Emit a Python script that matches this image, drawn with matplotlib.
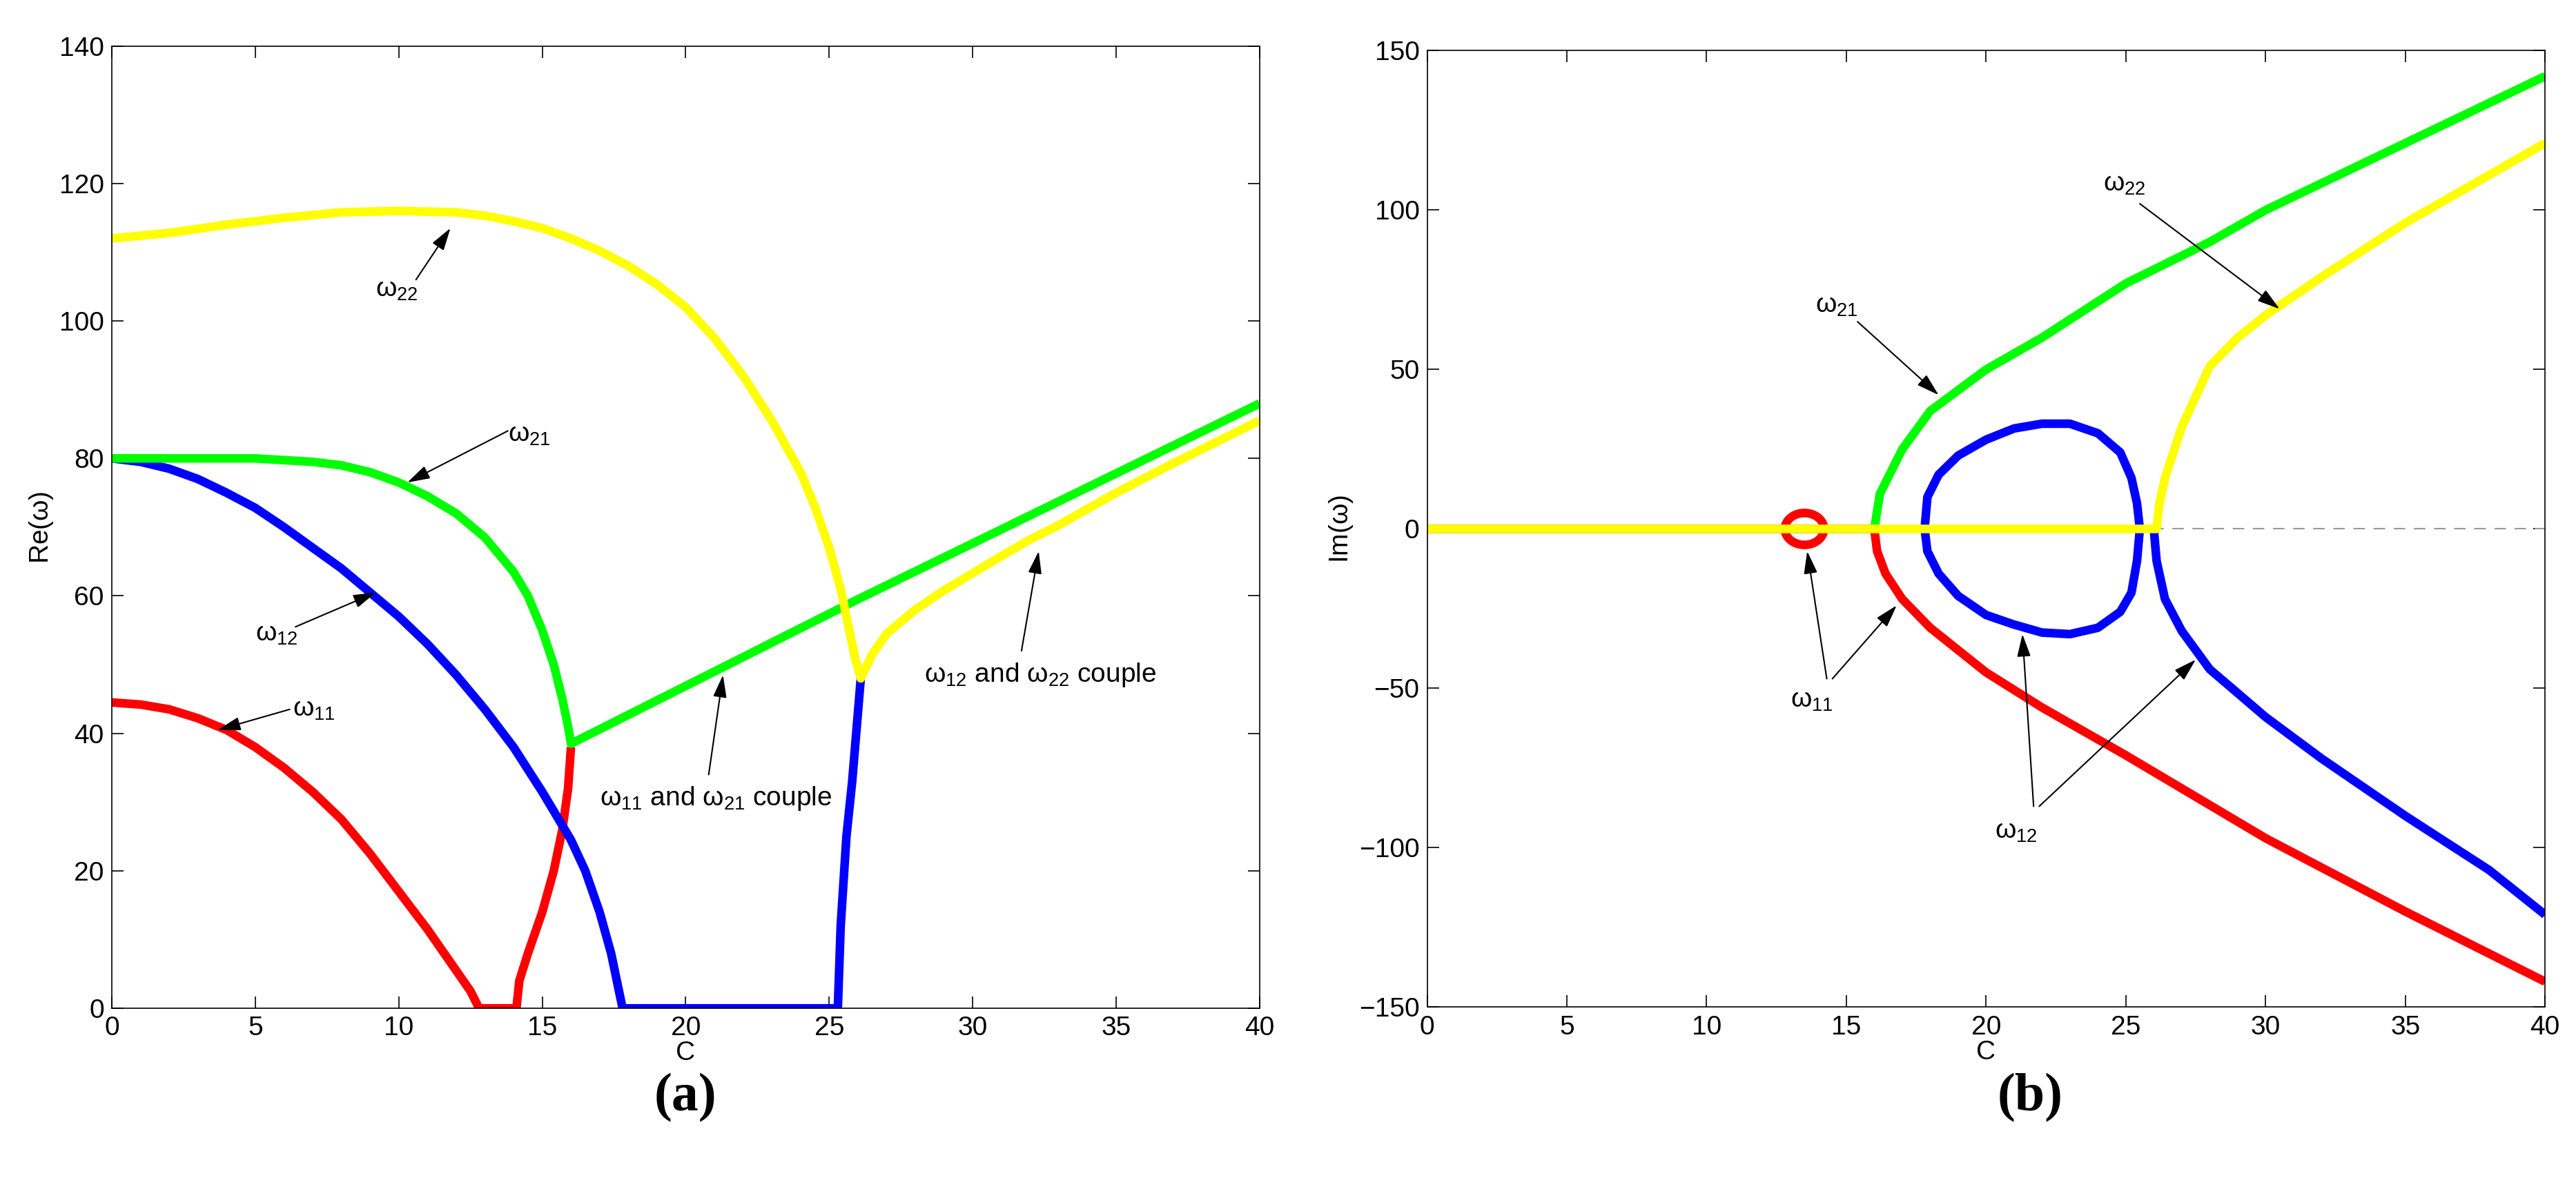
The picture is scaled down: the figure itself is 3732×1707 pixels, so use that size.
import matplotlib
matplotlib.use("Agg")
import matplotlib.pyplot as plt
import numpy as np

plt.rcParams['font.family'] = ['Liberation Sans', 'DejaVu Sans']
plt.rcParams['mathtext.fontset'] = 'custom'
plt.rcParams['mathtext.rm'] = 'Liberation Sans'
plt.rcParams['mathtext.it'] = 'Liberation Sans'

# ---- panel (a): Re(omega) ----
a_red_x = [0, 1, 2, 3, 4, 5, 6, 7, 8, 9, 10, 11, 11.5, 12, 12.5, 12.8, 14.1, 14.2, 14.5, 15, 15.4, 15.7, 15.9, 16.0]
a_red_y = [44.5, 44.2, 43.5, 42.2, 40.5, 38, 35, 31.5, 27.5, 22.5, 17, 11.5, 8.5, 5.5, 2.5, 0, 0, 4, 8, 14, 20, 26, 32, 38]
a_blue_x = [0, 1, 2, 3, 4, 5, 6, 7, 8, 9, 10, 11, 12, 13, 14, 15, 15.5, 16, 16.5, 17, 17.4, 17.7, 17.8,
            25.3, 25.4, 25.6, 25.8, 26.1]
a_blue_y = [80, 79.5, 78.5, 77, 75, 72.8, 70, 67, 64, 60.5, 57, 53, 48.5, 43.5, 38, 31.5, 28, 24.5, 20, 14, 8, 2, 0,
            0, 12, 25, 33, 48]
a_green_x = [0, 5, 7, 8, 9, 10, 11, 12, 13, 14, 14.5, 15, 15.4, 15.7, 15.9, 16, 26, 40]
a_green_y = [80, 80, 79.5, 79, 78, 76.5, 74.5, 72, 68.5, 63.5, 60, 55, 50, 45, 41, 38.5, 59.5, 88]
a_yel_x = [0, 2, 4, 6, 8, 10, 12, 13, 14, 15, 16, 17, 18, 19, 20, 21, 22, 23, 24, 24.5, 25, 25.4, 25.7, 25.9, 26.1,
           26.5, 27, 28, 29, 30, 31, 32, 33, 35, 37, 40]
a_yel_y = [112, 112.8, 114, 115, 115.8, 116, 115.8, 115.3, 114.5, 113.5, 112, 110.2, 108, 105.3, 102, 97.5, 92, 85.5,
           78, 73, 67, 61, 55, 51, 48, 51.5, 54.5, 58, 60.8, 63.3, 65.8, 68.2, 70.3, 75, 79.3, 85.5]

# ---- panel (b): Im(omega) ----
b_yel_x = [0, 26.1, 26.2, 26.4, 27, 28, 29, 30, 32, 35, 37, 40]
b_yel_y = [0, 0, 8, 16, 32, 51, 60, 67, 79, 96, 106, 121]
b_green_x = [16, 16.2, 17, 18, 20, 22, 25, 28, 30, 35, 40]
b_green_y = [0, 11, 25, 37, 50, 60, 77, 90, 100, 121, 142]
b_red_x = [0, 16, 16.1, 16.4, 17, 18, 20, 22, 25, 30, 35, 40]
b_red_y = [0, 0, -7, -14, -22, -31, -45, -56, -71, -97, -120, -142]
b_loop_x = [17.8, 17.9, 18.3, 19, 20, 21, 22, 23, 24, 24.8, 25.2, 25.4, 25.5,
            25.4, 25.2, 24.8, 24, 23, 22, 21, 20, 19, 18.3, 17.9, 17.8]
b_loop_y = [0, 10, 17, 23, 28, 31.5, 33, 33, 30, 24, 16, 8, 0,
            -10, -20, -26, -31, -33, -32.5, -30, -27, -21, -14, -7, 0]
b_blue_x = [26, 26.1, 26.4, 27, 28, 30, 32, 35, 38, 40]
b_blue_y = [0, -10, -22, -32, -44, -59, -72, -90, -107, -121]
circ_cx, circ_cy, circ_rx, circ_ry = 13.5, 0, 0.7, 5

RED, BLUE, GREEN, YEL = '#ff0000', '#0000ff', '#00ff00', '#ffff00'
LW = 9
FS = 28

fig = plt.figure(figsize=(37.32, 17.07), dpi=100)
ax1 = fig.add_axes([0.0434, 0.144, 0.4456, 0.817])
ax2 = fig.add_axes([0.554, 0.145, 0.434, 0.812])

def style(ax):
    ax.tick_params(direction='in', top=True, right=True, labelsize=FS, length=12, width=1.2, pad=8)
    for s in ax.spines.values():
        s.set_linewidth(1.2)

def ann(ax, xy, xytext):
    ax.annotate('', xy=xy, xytext=xytext,
                arrowprops=dict(arrowstyle='-|>,head_length=2.0,head_width=0.6', color='black', lw=1.5,
                                shrinkA=0, shrinkB=0))

def om(sub):
    return r'$\mathregular{\omega_{%s}}$' % sub

def pl(ax, x, y, c):
    ax.plot(x, y, color=c, lw=LW, solid_joinstyle='round', solid_capstyle='butt')

# panel a
pl(ax1, a_red_x, a_red_y, RED)
pl(ax1, a_blue_x, a_blue_y, BLUE)
pl(ax1, a_green_x, a_green_y, GREEN)
pl(ax1, a_yel_x, a_yel_y, YEL)
ax1.set_xlim(0, 40); ax1.set_ylim(0, 140)
ax1.set_xticks(range(0, 41, 5)); ax1.set_yticks(range(0, 141, 20))
ax1.set_xlabel('C', fontsize=FS, labelpad=0); ax1.set_ylabel(r'Re($\mathregular{\omega}$)', fontsize=FS)
style(ax1)
ax1.text(9.2, 103.5, om('22'), fontsize=FS)
ann(ax1, (11.8, 113.5), (10.6, 106))
ax1.text(13.8, 82.5, om('21'), fontsize=FS)
ann(ax1, (10.3, 76.5), (13.8, 84))
ax1.text(5.0, 53.5, om('12'), fontsize=FS)
ann(ax1, (9.2, 60.5), (6.4, 55.5))
ax1.text(6.3, 42.5, om('11'), fontsize=FS)
ann(ax1, (3.7, 40.5), (6.2, 43.5))
ax1.text(17.0, 29.5, om('11') + ' and ' + om('21') + ' couple', fontsize=FS)
ann(ax1, (21.3, 48.5), (20.8, 34))
ax1.text(28.3, 47.5, om('12') + ' and ' + om('22') + ' couple', fontsize=FS)
ann(ax1, (32.3, 66.5), (31.7, 52))

# panel b
ax2.axhline(0, color='#999999', lw=1.5, ls=(0, (8, 6)))
pl(ax2, b_red_x, b_red_y, RED)
t = np.linspace(0, 2 * np.pi, 100)
pl(ax2, circ_cx + circ_rx * np.cos(t), circ_cy + circ_ry * np.sin(t), RED)
pl(ax2, b_green_x, b_green_y, GREEN)
pl(ax2, b_loop_x, b_loop_y, BLUE)
pl(ax2, b_blue_x, b_blue_y, BLUE)
pl(ax2, b_yel_x, b_yel_y, YEL)
ax2.set_xlim(0, 40); ax2.set_ylim(-150, 150)
ax2.set_xticks(range(0, 41, 5)); ax2.set_yticks(range(-150, 151, 50))
ax2.set_xlabel('C', fontsize=FS, labelpad=0); ax2.set_ylabel(r'Im($\mathregular{\omega}$)', fontsize=FS)
style(ax2)
ax2.text(13.0, -56, om('11'), fontsize=FS)
ann(ax2, (13.6, -7), (14.3, -47))
ann(ax2, (16.8, -24), (14.5, -47))
ax2.text(13.9, 68, om('21'), fontsize=FS)
ann(ax2, (18.3, 42), (15.4, 65))
ax2.text(24.2, 106, om('22'), fontsize=FS)
ann(ax2, (30.5, 69), (25.5, 102))
ax2.text(20.3, -97, om('12'), fontsize=FS)
ann(ax2, (21.3, -33), (21.7, -87))
ann(ax2, (27.5, -41), (21.9, -87))

fig.text(0.266, 0.068, '(a)', fontsize=56, fontweight='bold', family='Liberation Serif', ha='center', va='center')
fig.text(0.788, 0.068, '(b)', fontsize=56, fontweight='bold', family='Liberation Serif', ha='center', va='center')

fig.savefig('out.png', dpi=100)
